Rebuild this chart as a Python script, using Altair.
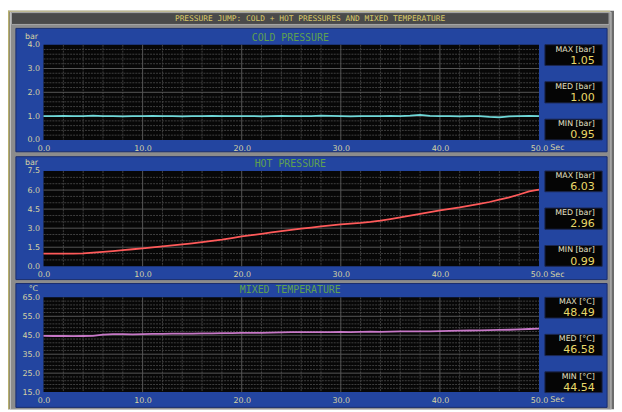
import altair as alt
import pandas as pd

# ---------------- data ----------------
time_s = list(range(51))

cold_bar = [1.00, 1.00, 1.01, 1.00, 1.00, 1.02, 1.00, 1.00, 0.99, 1.00,
            1.00, 1.01, 1.00, 1.00, 0.99, 1.00, 1.00, 1.01, 1.00, 1.00,
            1.00, 1.00, 0.99, 1.00, 1.01, 1.00, 1.00, 1.00, 1.02, 1.01,
            1.00, 0.99, 1.00, 1.00, 1.00, 1.01, 1.00, 1.02, 1.05, 1.01,
            1.00, 1.00, 0.99, 1.00, 1.00, 0.97, 0.95, 0.99, 1.00, 1.01, 1.00]

hot_bar = [0.99, 1.00, 1.00, 1.00, 1.02, 1.08, 1.14, 1.20, 1.27, 1.34,
           1.41, 1.49, 1.57, 1.64, 1.72, 1.81, 1.90, 2.00, 2.10, 2.22,
           2.35, 2.45, 2.55, 2.66, 2.77, 2.86, 2.96, 3.05, 3.14, 3.22,
           3.30, 3.36, 3.42, 3.50, 3.60, 3.72, 3.84, 3.98, 4.12, 4.26,
           4.40, 4.52, 4.64, 4.78, 4.92, 5.06, 5.24, 5.42, 5.65, 5.90, 6.03]

mixed_c = [44.7, 44.6, 44.7, 44.5, 44.6, 44.7, 45.3, 45.6, 45.6, 45.5,
           45.6, 45.7, 45.7, 45.8, 45.8, 45.9, 46.0, 46.0, 46.1, 46.1,
           46.2, 46.3, 46.3, 46.4, 46.5, 46.6, 46.6, 46.7, 46.6, 46.7,
           46.8, 46.7, 46.8, 46.9, 46.8, 46.9, 47.0, 47.1, 47.0, 47.1,
           47.2, 47.3, 47.4, 47.5, 47.6, 47.7, 47.8, 47.9, 48.1, 48.3, 48.5]

main_title = "PRESSURE JUMP: COLD + HOT PRESSURES AND MIXED TEMPERATURE"
panel_titles = ["COLD PRESSURE", "HOT PRESSURE", "MIXED TEMPERATURE"]
unit_labels = ["bar", "bar", "°C"]
stat_names = ["MAX", "MED", "MIN"]
stat_units = ["[bar]", "[bar]", "[°C]"]
cold_stats = ["1.05", "1.00", "0.95"]
hot_stats = ["6.03", "2.96", "0.99"]
mixed_stats = ["48.49", "46.58", "44.54"]
x_ticks = [0, 10, 20, 30, 40, 50]
x_minor = [2, 4, 6, 8, 12, 14, 16, 18, 22, 24, 26, 28, 32, 34, 36, 38, 42, 44, 46, 48]
y_domains = [[0, 4], [0, 7.5], [15, 65]]
y_major = [[0, 1, 2, 3, 4], [0, 1.5, 3, 4.5, 6, 7.5], [15, 25, 35, 45, 55, 65]]
y_minor_step = [0.2, 0.5, 2]

series = [cold_bar, hot_bar, mixed_c]
stats = [cold_stats, hot_stats, mixed_stats]

# ---------------- styling / layout ----------------
line_colors = ["#6fd8d8", "#ff5a5a", "#c878c8"]
BLUE = "#2345a0"
LABEL = "#d8d4a4"
FONT = "DejaVu Sans"
MONO = "DejaVu Sans Mono"

W, H = 614, 404
ORG = 8


def P(v):
    return v - ORG


PLOT_L, PLOT_R = 44, 546
PLOT_T = [42.5, 170.5, 298.5]
PLOT_B = [139.0, 267.0, 394.5]
PANEL = [(26, 151), (156, 280.5), (284.5, 410)]
BOX_L, BOX_R = 552, 610
BOX_OFF = [(0, 21), (37.5, 59), (75.5, 96.5)]

rects = []


def add_rect(x, x2, y, y2, fill, stroke="transparent", sw=0):
    rects.append(dict(x=P(x), x2=P(x2), y=P(y), y2=P(y2), fill=fill, stroke=stroke, sw=sw))


add_rect(8, 622, 8, 412, "#6c6c6c")
add_rect(8, 618, 8, 9.5, "#b8b070")
add_rect(8, 9.5, 8, 412, "#b8b070")
add_rect(10.5, 619, 9.5, 412, "#8c8c8c", "#c4c4c4", 1)
add_rect(11.5, 617, 10, 22, "#4a4a4a", "#a8a8a8", 1)
for (p0, p1) in PANEL:
    add_rect(16, 615, p0, p1, BLUE, "#1a2e6e", 1)
for k in range(3):
    add_rect(PLOT_L, PLOT_R, PLOT_T[k], PLOT_B[k], "#070707")
    for (o0, o1) in BOX_OFF:
        add_rect(BOX_L, BOX_R, PLOT_T[k] + o0, PLOT_T[k] + o1, "#050505", "#1c2850", 1)

deco = alt.Chart(pd.DataFrame(rects)).mark_rect().encode(
    x=alt.X("x:Q", scale=None, axis=None), x2="x2:Q",
    y=alt.Y("y:Q", scale=None, axis=None), y2="y2:Q",
    fill=alt.Fill("fill:N", scale=None, legend=None),
    stroke=alt.Stroke("stroke:N", scale=None, legend=None),
    strokeWidth=alt.StrokeWidth("sw:Q", scale=None, legend=None),
)

layers = [deco]
xs = alt.Scale(domain=[0, 50], range=[P(PLOT_L), P(PLOT_R)], nice=False, zero=False)

MINOR_C = "#404040"
MAJOR_C = "#565656"

for k in range(3):
    T, B = PLOT_T[k], PLOT_B[k]
    d0, d1 = y_domains[k]
    ys = alt.Scale(domain=[d0, d1], range=[P(B), P(T)], nice=False, zero=False)
    n = int(round((d1 - d0) / y_minor_step[k]))
    minor_vals = [round(d0 + i * y_minor_step[k], 4) for i in range(1, n)]
    minor_vals = [v for v in minor_vals if all(abs(v - m) > 1e-6 for m in y_major[k])]
    major_inner = y_major[k][1:-1]

    layers.append(alt.Chart(pd.DataFrame({"v": minor_vals})).mark_rule(
        color=MINOR_C, strokeWidth=1, strokeDash=[2, 1]).encode(
        y=alt.Y("v:Q", scale=ys, axis=None),
        x=alt.value(P(PLOT_L)), x2=alt.value(P(PLOT_R))))
    layers.append(alt.Chart(pd.DataFrame({"t": x_minor})).mark_rule(
        color=MINOR_C, strokeWidth=1, strokeDash=[2, 1]).encode(
        x=alt.X("t:Q", scale=xs, axis=None),
        y=alt.value(P(T)), y2=alt.value(P(B))))
    layers.append(alt.Chart(pd.DataFrame({"v": major_inner})).mark_rule(
        color=MAJOR_C, strokeWidth=1).encode(
        y=alt.Y("v:Q", scale=ys, axis=None),
        x=alt.value(P(PLOT_L)), x2=alt.value(P(PLOT_R))))
    layers.append(alt.Chart(pd.DataFrame({"t": x_ticks[1:-1]})).mark_rule(
        color=MAJOR_C, strokeWidth=1).encode(
        x=alt.X("t:Q", scale=xs, axis=None),
        y=alt.value(P(T)), y2=alt.value(P(B))))

    x_axis = alt.Axis(orient="bottom", offset=P(B) - H, values=x_ticks, format=".1f",
                      domain=False, ticks=False, tickSize=0, grid=False, zindex=1,
                      labelColor=LABEL, labelFont=FONT, labelFontSize=8,
                      labelPadding=8.5, labelBaseline="middle", labelFlush=False,
                      labelOverlap=False, labelBound=False, title=None)
    y_axis = alt.Axis(orient="left", offset=-P(PLOT_L), values=y_major[k], format=".1f",
                      domain=False, ticks=False, tickSize=0, grid=False, zindex=1,
                      labelColor=LABEL, labelFont=FONT, labelFontSize=8,
                      labelPadding=4, labelAlign="right", labelBaseline="middle",
                      labelFlush=False, labelOverlap=False, labelBound=False, title=None)
    layers.append(alt.Chart(pd.DataFrame({"t": time_s, "v": series[k]})).mark_line(
        color=line_colors[k], strokeWidth=1.8).encode(
        x=alt.X("t:Q", scale=xs, axis=x_axis),
        y=alt.Y("v:Q", scale=ys, axis=y_axis)))

# ---------------- texts ----------------
center_txt = [dict(x=P(314), y=P(16), text=main_title, color="#d8c868", size=8)]
right_mid = []
right_base = []
left_mid = []
for k in range(3):
    T, B = PLOT_T[k], PLOT_B[k]
    center_txt.append(dict(x=P(294), y=P(T - 7.2), text=panel_titles[k], color="#5fa050", size=10))
    right_mid.append(dict(x=P(38.5), y=P(T - 8), text=unit_labels[k], color=LABEL, size=8))
    left_mid.append(dict(x=P(557.5), y=P(B + 8.5), text="Sec", color=LABEL, size=8))
    for j in range(3):
        top = T + BOX_OFF[j][0]
        right_mid.append(dict(x=P(602.5), y=P(top + 5), text=f"{stat_names[j]} {stat_units[k]}",
                              color="#e4e0c8", size=8))
        right_base.append(dict(x=P(602.5), y=P(top + 19.3), text=stats[k][j],
                               color="#e8d868", size=11.2))


def text_layer(rows, font, align, baseline):
    return alt.Chart(pd.DataFrame(rows)).mark_text(font=font, align=align, baseline=baseline).encode(
        x=alt.X("x:Q", scale=None, axis=None),
        y=alt.Y("y:Q", scale=None, axis=None),
        text="text:N",
        color=alt.Color("color:N", scale=None, legend=None),
        size=alt.Size("size:Q", scale=None, legend=None),
    )


layers.append(text_layer(center_txt, MONO, "center", "middle"))
layers.append(text_layer(right_mid, FONT, "right", "middle"))
layers.append(text_layer(right_base, FONT, "right", "alphabetic"))
layers.append(text_layer(left_mid, FONT, "left", "middle"))

chart = alt.layer(*layers).resolve_scale(x="independent", y="independent").properties(
    width=W, height=H, padding=0, background="white",
    autosize=alt.AutoSizeParams(type="none"),
).configure_view(stroke=None)

chart.save("out.html", embed_options={"renderer": "svg", "actions": False})
